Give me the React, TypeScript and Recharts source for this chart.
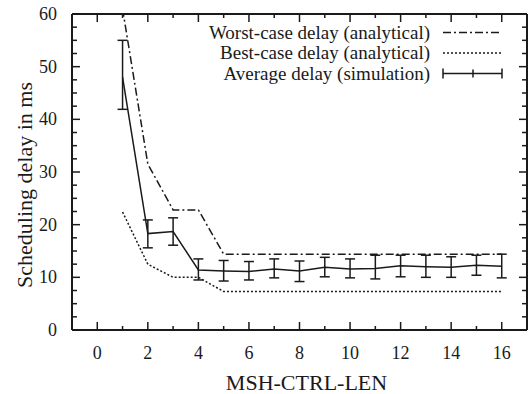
import React from 'react';
import {
  LineChart,
  Line,
  XAxis,
  YAxis,
  ErrorBar,
  Legend,
  Label,
} from 'recharts';

// MSH-CTRL-LEN values
const lengths = [1, 2, 3, 4, 5, 6, 7, 8, 9, 10, 11, 12, 13, 14, 15, 16];
// analytical bounds (ms)
const worstCase = [61, 31.5, 22.8, 22.8, 14.4, 14.4, 14.4, 14.4, 14.4, 14.4, 14.4, 14.4, 14.4, 14.4, 14.4, 14.4];
const bestCase = [22.4, 12.5, 10, 10, 7.3, 7.3, 7.3, 7.3, 7.3, 7.3, 7.3, 7.3, 7.3, 7.3, 7.3, 7.3];
// simulation mean and error bar ends (ms)
const avgDelay = [48, 18.3, 18.7, 11.4, 11.2, 11.1, 11.6, 11.2, 11.9, 11.6, 11.7, 12.2, 12.0, 11.9, 12.3, 12.1];
const avgLow = [41.9, 15.6, 16.1, 9.5, 9.3, 9.5, 9.9, 9.2, 10.1, 9.9, 9.7, 10.1, 10.0, 10.0, 10.4, 9.9];
const avgHigh = [55.0, 20.9, 21.3, 13.5, 13.2, 13.0, 13.5, 13.1, 13.8, 13.5, 14.2, 14.2, 14.2, 13.9, 14.2, 14.4];

const xTicks = [0, 1, 2, 3, 4, 5, 6, 7, 8, 9, 10, 11, 12, 13, 14, 15, 16];
const yTicks = [0, 2.5, 5, 7.5, 10, 12.5, 15, 17.5, 20, 22.5, 25, 27.5, 30, 32.5, 35, 37.5, 40, 42.5, 45, 47.5, 50, 52.5, 55, 57.5, 60];

const data = lengths.map((x, i) => ({
  x,
  worst: worstCase[i],
  best: bestCase[i],
  avg: avgDelay[i],
  err: [avgDelay[i] - avgLow[i], avgHigh[i] - avgDelay[i]],
}));

const FONT = 'Liberation Serif, Times New Roman, Times, DejaVu Serif, serif';
const INK = '#1a1a1a';

const ORDER = ['worst', 'best', 'avg'];
const DASH: Record<string, string | undefined> = {
  worst: '8 3 2 3',
  best: '2 2',
  avg: undefined,
};

function BottomTick({ x, y, payload }: any) {
  const major = payload.value % 2 === 0;
  const len = major ? 8 : 4;
  return (
    <g>
      <path d={`M${x},${y - 2}V${y - 2 - len}`} stroke={INK} strokeWidth={1.5} fill="none" />
      {major && (
        <text x={x} y={y + 27} textAnchor="middle" style={{ fontSize: 18, fontFamily: FONT, fill: INK }}>
          {payload.value}
        </text>
      )}
    </g>
  );
}

function TopTick({ x, y, payload }: any) {
  const len = payload.value % 2 === 0 ? 8 : 4;
  return <path d={`M${x},${y + 2}V${y + 2 + len}`} stroke={INK} strokeWidth={1.5} fill="none" />;
}

function LeftTick({ x, y, payload }: any) {
  const major = payload.value % 10 === 0;
  const len = major ? 8 : 5;
  return (
    <g>
      <path d={`M${x + 2},${y}H${x + 2 + len}`} stroke={INK} strokeWidth={1.5} fill="none" />
      {major && (
        <text x={x - 13} y={y + 6} textAnchor="end" style={{ fontSize: 18, fontFamily: FONT, fill: INK }}>
          {payload.value}
        </text>
      )}
    </g>
  );
}

function RightTick({ x, y, payload }: any) {
  const len = payload.value % 10 === 0 ? 8 : 5;
  return <path d={`M${x - 2},${y}H${x - 2 - len}`} stroke={INK} strokeWidth={1.5} fill="none" />;
}

function LegendBox({ payload }: any) {
  const items = [...(payload ?? [])].sort(
    (a: any, b: any) => ORDER.indexOf(a.dataKey) - ORDER.indexOf(b.dataKey)
  );
  return (
    <svg width={340} height={72} style={{ overflow: 'visible' }}>
      {items.map((entry: any, i: number) => {
        const key = entry.dataKey as string;
        const base = 18.5 + i * 20.5;
        const ly = base - 6;
        return (
          <g key={key}>
            <text x={250} y={base} textAnchor="end" style={{ fontSize: 19, fontFamily: FONT, fill: INK }}>
              {entry.value}
            </text>
            <line x1={263} x2={322} y1={ly} y2={ly} stroke={INK} strokeWidth={1.5} strokeDasharray={DASH[key]} />
            {key === 'avg' && (
              <g stroke={INK} strokeWidth={1.5}>
                <line x1={263} x2={263} y1={ly - 5} y2={ly + 5} />
                <line x1={293} x2={293} y1={ly - 4} y2={ly + 4} />
                <line x1={322} x2={322} y1={ly - 5} y2={ly + 5} />
              </g>
            )}
          </g>
        );
      })}
    </svg>
  );
}

export default function App() {
  return (
    <div style={{ position: 'absolute', left: 0, top: 0, width: 531, height: 394, background: '#fff', fontFamily: FONT }}>
      <LineChart width={531} height={394} data={data} margin={{ top: 13, right: 3, bottom: 0, left: 0 }}>
        <XAxis
          dataKey="x"
          type="number"
          domain={[-1, 17]}
          ticks={xTicks}
          interval={0}
          height={64}
          tickSize={0}
          tickLine={false}
          tick={<BottomTick />}
          axisLine={{ stroke: INK, strokeWidth: 2 }}
        >
          <Label
            value="MSH-CTRL-LEN"
            position="insideBottom"
            offset={4}
            dx={7}
            style={{ fontSize: 22, fontFamily: FONT, fill: INK }}
          />
        </XAxis>
        <XAxis
          xAxisId="top"
          orientation="top"
          dataKey="x"
          type="number"
          domain={[-1, 17]}
          ticks={xTicks}
          interval={0}
          height={1}
          tickSize={0}
          tickLine={false}
          tick={<TopTick />}
          axisLine={{ stroke: INK, strokeWidth: 2 }}
        />
        <YAxis
          type="number"
          domain={[0, 60]}
          ticks={yTicks}
          interval={0}
          width={72}
          tickSize={0}
          tickLine={false}
          tick={<LeftTick />}
          allowDataOverflow
          axisLine={{ stroke: INK, strokeWidth: 2 }}
        >
          <Label
            value="Scheduling delay in ms"
            angle={-90}
            position="center"
            dx={-12}
            dy={13}
            style={{ fontSize: 22, fontFamily: FONT, fill: INK }}
          />
        </YAxis>
        <YAxis
          yAxisId="right"
          orientation="right"
          type="number"
          domain={[0, 60]}
          ticks={yTicks}
          interval={0}
          width={1}
          tickSize={0}
          tickLine={false}
          tick={<RightTick />}
          allowDataOverflow
          axisLine={{ stroke: INK, strokeWidth: 2 }}
        />
        <Legend
          layout="horizontal"
          verticalAlign="middle"
          align="center"
          wrapperStyle={{ left: 180, top: 20, width: 340, height: 72 }}
          content={<LegendBox />}
        />
        <Line
          xAxisId="top"
          yAxisId="right"
          dataKey="worst"
          name="Worst-case delay (analytical)"
          stroke={INK}
          strokeWidth={1.5}
          strokeDasharray={DASH.worst}
          dot={false}
          activeDot={false}
          isAnimationActive={false}
        />
        <Line
          dataKey="best"
          name="Best-case delay (analytical)"
          stroke={INK}
          strokeWidth={1.5}
          strokeDasharray={DASH.best}
          dot={false}
          activeDot={false}
          isAnimationActive={false}
        />
        <Line
          dataKey="avg"
          name="Average delay (simulation)"
          stroke={INK}
          strokeWidth={1.5}
          dot={false}
          activeDot={false}
          isAnimationActive={false}
        >
          <ErrorBar dataKey="err" direction="y" width={5} stroke={INK} strokeWidth={1.5} />
        </Line>
      </LineChart>
    </div>
  );
}
